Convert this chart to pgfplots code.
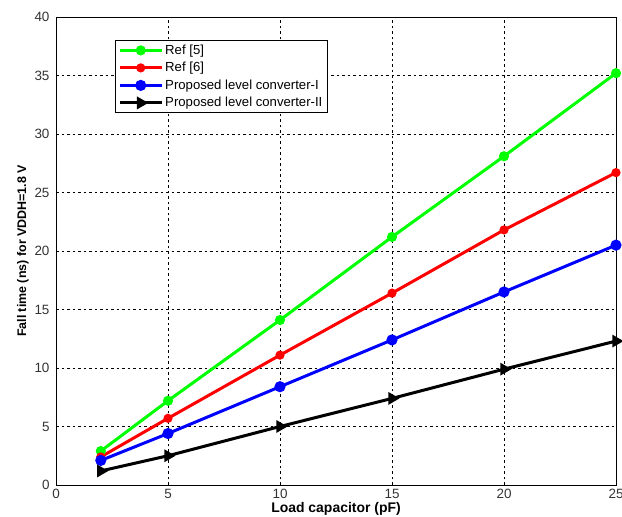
\documentclass[border=0pt]{standalone}
\usepackage{pgfplots}
\pgfplotsset{compat=1.18}
\usepackage{fontspec}
\setmainfont{Liberation Sans}
\begin{document}
\begin{tikzpicture}[x=1bp,y=1bp]
\begin{axis}[
  scale only axis,
  width=560bp, height=468bp,
  xmin=0, xmax=25, ymin=0, ymax=40,
  xtick={0,5,...,25}, ytick={0,5,...,40},
  grid=major,
  grid style={black, dash pattern=on 2.5bp off 3bp, line width=0.7bp},
  axis line style={black, line width=0.9bp},
  tick style={black},
  major tick length=0bp,
  /pgf/number format/assume math mode=true,
  tick label style={font=\fontsize{13.5}{14}\selectfont, text=black!80},
  xticklabel style={yshift=-1bp},
  yticklabel style={xshift=-3bp},
  xlabel={\textbf{Load capacitor (pF)}},
  ylabel={\textbf{Fall time (ns) for VDDH=1.8 V}},
  xlabel style={font=\fontsize{14}{15}\selectfont, yshift=3bp},
  ylabel style={font=\fontsize{12.5}{14}\selectfont, yshift=-1bp},
  legend style={at={(0.105,0.951)}, anchor=north west, draw=black, line width=0.9bp,
    font=\fontsize{13.2}{14}\selectfont, row sep=2.5bp, inner xsep=3bp, inner ysep=2.5bp},
  legend cell align=left,
  legend image code/.code={%
    \draw[mark repeat=2,mark phase=2,#1] plot coordinates {(0bp,0bp) (21bp,0bp) (42bp,0bp)};},
  every axis plot/.append style={line width=3bp},
]
\addplot[color={rgb,255:red,0;green,255;blue,0}, mark=*, mark size=3.5bp] coordinates {(2,2.9) (5,7.2) (10,14.1) (15,21.2) (20,28.1) (25,35.2)};
\addlegendentry{Ref [5]}
\addplot[color=red, mark=*, mark size=3bp] coordinates {(2,2.4) (5,5.7) (10,11.1) (15,16.4) (20,21.8) (25,26.7)};
\addlegendentry{Ref [6]}
\addplot[color=blue, mark=*, mark size=4bp] coordinates {(2,2.1) (5,4.4) (10,8.4) (15,12.4) (20,16.5) (25,20.5)};
\addlegendentry{Proposed level converter-I}
\addplot[color=black, mark=triangle*, mark size=4.5bp, mark options={rotate=-90}] coordinates {(2,1.2) (5,2.5) (10,5.0) (15,7.4) (20,9.9) (25,12.3)};
\addlegendentry{Proposed level converter-II}
\end{axis}
\pgfresetboundingbox
\useasboundingbox ([xshift=-56bp,yshift=-32bp]current axis.south west) rectangle ([xshift=6bp,yshift=17bp]current axis.north east);
\end{tikzpicture}
\end{document}
